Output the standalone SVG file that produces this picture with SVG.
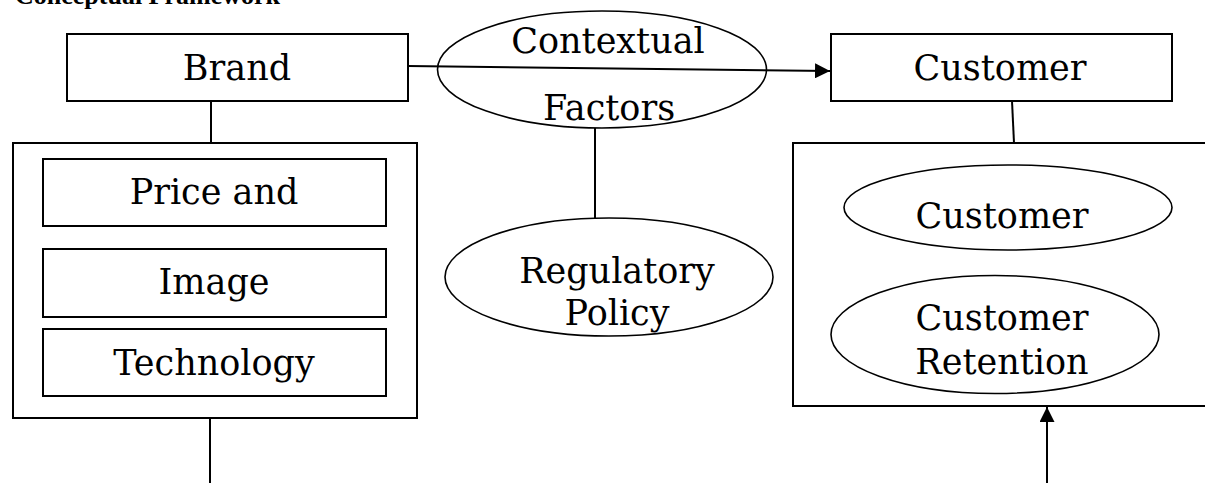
<svg xmlns="http://www.w3.org/2000/svg" width="1205" height="483" viewBox="0 0 1205 483">
  <defs>
    <style>
      .box { fill: #ffffff; stroke: #000000; stroke-width: 2; }
      .oval { fill: #ffffff; stroke: #000000; stroke-width: 1.6; }
      .lbl { font-family: "DejaVu Serif", "Liberation Serif", serif; font-size: 35px; fill: #000000; text-anchor: middle; }
      .title { font-family: "Liberation Serif", serif; font-weight: bold; font-size: 26px; fill: #000000; }
      .wire { fill: none; stroke: #000000; stroke-width: 2; }
    </style>
    <marker id="arrowhead" viewBox="0 0 10 10" refX="10" refY="5" markerWidth="15" markerHeight="15" markerUnits="userSpaceOnUse" orient="auto">
      <path d="M0,0 L10,5 L0,10 Z" fill="#000000"/>
    </marker>
  </defs>

  <rect x="0" y="0" width="1205" height="483" fill="#ffffff"/>

  <!-- heading, partly above the top edge -->
  <text class="title" x="15" y="4">Conceptual Framework</text>

  <g id="brand">
    <rect class="box" x="67" y="34" width="341" height="67"/>
    <text class="lbl" x="237" y="80">Brand</text>
  </g>

  <g id="brand-attributes">
    <rect class="box" x="13" y="143" width="404" height="275"/>
  </g>

  <g id="price">
    <rect class="box" x="43" y="159" width="343" height="67"/>
    <text class="lbl" x="214" y="204">Price and</text>
  </g>

  <g id="image">
    <rect class="box" x="43" y="249" width="343" height="68"/>
    <text class="lbl" x="214" y="294">Image</text>
  </g>

  <g id="technology">
    <rect class="box" x="43" y="329" width="343" height="67"/>
    <text class="lbl" x="214" y="375">Technology</text>
  </g>

  <g id="contextual-factors">
    <ellipse class="oval" cx="602" cy="69.5" rx="164.5" ry="58.5"/>
    <text class="lbl" x="608" y="53">Contextual</text>
    <text class="lbl" x="609" y="120">Factors</text>
  </g>

  <g id="regulatory-policy">
    <ellipse class="oval" cx="609" cy="277" rx="164" ry="59"/>
    <text class="lbl" x="617" y="283">Regulatory</text>
    <text class="lbl" x="617" y="325">Policy</text>
  </g>

  <g id="customer">
    <rect class="box" x="831" y="34" width="341" height="67"/>
    <text class="lbl" x="1000" y="80">Customer</text>
  </g>

  <g id="customer-outcomes">
    <rect class="box" x="793" y="143" width="430" height="263"/>
  </g>

  <g id="customer-satisfaction">
    <ellipse class="oval" cx="1008" cy="207.5" rx="164" ry="42.5"/>
    <text class="lbl" x="1002" y="228">Customer</text>
  </g>

  <g id="customer-retention">
    <ellipse class="oval" cx="995" cy="334.5" rx="164" ry="59"/>
    <text class="lbl" x="1002" y="330">Customer</text>
    <text class="lbl" x="1002" y="374">Retention</text>
  </g>

  <g id="connectors">
    <line class="wire" x1="408" y1="66" x2="830" y2="71" marker-end="url(#arrowhead)"/>
    <line class="wire" x1="211" y1="101" x2="211" y2="143"/>
    <line class="wire" x1="210" y1="418" x2="210" y2="483"/>
    <line class="wire" x1="595" y1="128" x2="595" y2="218"/>
    <line class="wire" x1="1012" y1="101" x2="1014" y2="143"/>
    <line class="wire" x1="1047" y1="483" x2="1047" y2="407" marker-end="url(#arrowhead)"/>
  </g>
</svg>
